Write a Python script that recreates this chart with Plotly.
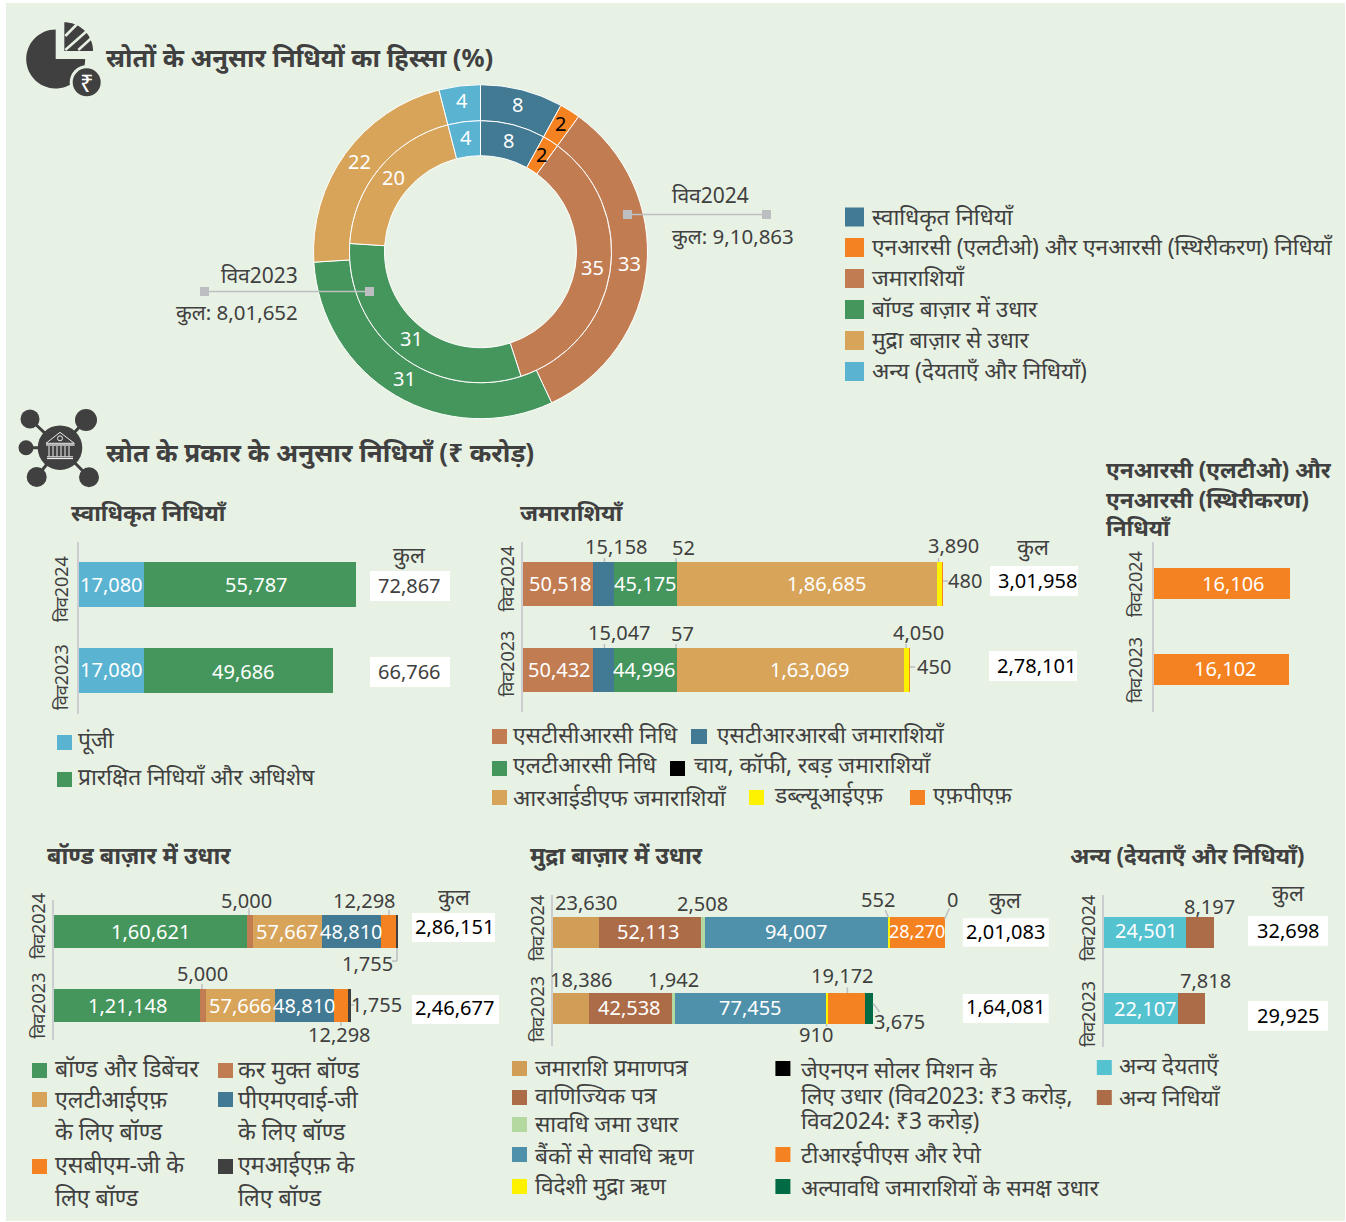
import math
import numpy as np
import plotly.graph_objects as go

W, H = 1346, 1222
FONT = '"Noto Sans", "Noto Sans Devanagari", "Open Sans", sans-serif'
DARK = "#404040"
BG = "#E8F2E4"
GREY = "#BDBEC2"

YEARS = ["विव2023", "विव2024"]

# ---- colours
C_BLUE = "#5AB3D1"; C_GREEN = "#44965C"; C_ORANGE = "#F58220"; C_BROWN = "#C27C52"
C_TEAL = "#417A92"; C_TAN = "#D7A45A"; C_BLACK = "rgba(0,0,0,0.995)"; C_YELLOW = "#FFF200"; C_CHAR = "#404040"
C_TAN2 = "#D19E57"; C_BROWN2 = "#AD6C48"; C_LGREEN = "#B3D9A0"; C_BLUE2 = "#4F90AA"; C_DGREEN = "#006B45"; C_CYAN = "#55C2D0"

# ---- donut data
src_names = ["स्वाधिकृत निधियाँ", "एनआरसी (एलटीओ) और एनआरसी (स्थिरीकरण) निधियाँ", "जमाराशियाँ",
             "बॉण्ड बाज़ार में उधार", "मुद्रा बाज़ार से उधार", "अन्य (देयताएँ और निधियाँ)"]
src_colors = [C_TEAL, C_ORANGE, C_BROWN, C_GREEN, C_TAN, C_BLUE]
src_2024 = [72867, 16106, 301958, 286151, 201083, 32698]
src_2023 = [66766, 16102, 278101, 246677, 164081, 29925]
pct_2024 = [8, 2, 33, 31, 22, 4]
pct_2023 = [8, 2, 35, 31, 20, 4]

# ---- stacked bars [2023, 2024]
own_names = ["पूंजी", "प्रारक्षित निधियाँ और अधिशेष"]
own_vals = [[17080, 17080], [49686, 55787]]
own_cols = [C_BLUE, C_GREEN]
own_tot = [66766, 72867]

dep_names = ["एसटीसीआरसी निधि", "एसटीआरआरबी जमाराशियाँ", "एलटीआरसी निधि", "चाय, कॉफी, रबड़ जमाराशियाँ",
             "आरआईडीएफ जमाराशियाँ", "डब्ल्यूआईएफ़", "एफ़पीएफ़"]
dep_vals = [[50432, 50518], [15047, 15158], [44996, 45175], [57, 52], [163069, 186685], [4050, 3890], [450, 480]]
dep_cols = [C_BROWN, C_TEAL, C_GREEN, C_BLACK, C_TAN, C_YELLOW, C_ORANGE]
dep_tot = [278101, 301958]

nrc_vals = [[16102, 16106]]
nrc_tot = [16102, 16106]

bond_names = ["बॉण्ड और डिबेंचर", "कर मुक्त बॉण्ड", "एलटीआईएफ़|के लिए बॉण्ड", "पीएमएवाई-जी|के लिए बॉण्ड",
              "एसबीएम-जी के|लिए बॉण्ड", "एमआईएफ़ के|लिए बॉण्ड"]
bond_vals = [[121148, 160621], [5000, 5000], [57666, 57667], [48810, 48810], [12298, 12298], [1755, 1755]]
bond_cols = [C_GREEN, C_BROWN, C_TAN, C_TEAL, C_ORANGE, C_CHAR]
bond_tot = [246677, 286151]

mon_names = ["जमाराशि प्रमाणपत्र", "वाणिज्यिक पत्र", "सावधि जमा उधार", "बैंकों से सावधि ऋण", "विदेशी मुद्रा ऋण",
             "जेएनएन सोलर मिशन के|लिए उधार (विव2023: ₹3 करोड़,|विव2024: ₹3 करोड़)", "टीआरईपीएस और रेपो",
             "अल्पावधि जमाराशियों के समक्ष उधार"]
mon_vals = [[18386, 23630], [42538, 52113], [1942, 2508], [77455, 94007], [910, 552], [3, 3], [19172, 28270], [3675, 0]]
mon_cols = [C_TAN2, C_BROWN2, C_LGREEN, C_BLUE2, C_YELLOW, C_BLACK, C_ORANGE, C_DGREEN]
mon_tot = [164081, 201083]

oth_names = ["अन्य देयताएँ", "अन्य निधियाँ"]
oth_vals = [[22107, 24501], [7818, 8197]]
oth_cols = [C_CYAN, C_BROWN2]
oth_tot = [29925, 32698]


def X(px): return px / W
def Y(py): return 1 - py / H
def inr(v):
    s = str(int(v))
    if len(s) <= 3: return s
    head, tail = s[:-3], s[-3:]
    parts = []
    while len(head) > 2:
        parts.insert(0, head[-2:]); head = head[:-2]
    if head: parts.insert(0, head)
    return ",".join(parts + [tail])


fig = go.Figure()
ann, shp = [], []
LEG = 22.7; LAB = 20; YR = 18; SUB = 23; SUB2 = 22.6; KUL = 22


def T(px, py, text, size=LAB, color=DARK, anchor="center", bold=False, angle=0):
    ann.append(dict(x=X(px), y=Y(py - 1), xref="paper", yref="paper", text=f"<b>{text}</b>" if bold else text,
                    showarrow=False, xanchor=anchor, yanchor="middle", textangle=angle, borderpad=0, borderwidth=0,
                    font=dict(family=FONT, size=size, color=color)))


def rect(x0, y0, x1, y1, color, layer="above"):
    shp.append(dict(type="rect", xref="paper", yref="paper", x0=X(x0), x1=X(x1), y0=Y(y0), y1=Y(y1),
                    fillcolor=color, line=dict(width=0), layer=layer))


def total_box(x0, y0, x1, y1, tx, ty, value, color="#000000"):
    rect(x0, y0, x1, y1, "#FFFFFF")
    T(tx, ty, inr(value), LAB, color)


def seg(x0, y0, x1, y1, color=GREY, w=1.5):
    shp.append(dict(type="line", xref="paper", yref="paper", x0=X(x0), x1=X(x1), y0=Y(y0), y1=Y(y1),
                    line=dict(color=color, width=w), layer="above"))


def poly(pts, color):
    d = "M " + " L ".join(f"{X(a):.5f},{Y(b):.5f}" for a, b in pts) + " Z"
    shp.append(dict(type="path", xref="paper", yref="paper", path=d, fillcolor=color, line=dict(width=0), layer="above"))


def circle(cx, cy, r, color, line=None):
    shp.append(dict(type="circle", xref="paper", yref="paper", x0=X(cx - r), x1=X(cx + r), y0=Y(cy + r), y1=Y(cy - r),
                    fillcolor=color, line=dict(width=1, color=line) if line else dict(width=0), layer="above"))


def sector(cx, cy, r, a0, a1, color):
    # angles clockwise from north, degrees
    aa = np.radians(np.linspace(a0, a1, 48))
    pts = [(cx + r * math.sin(t), cy - r * math.cos(t)) for t in aa] + [(cx, cy)]
    poly(pts, color)


rect(6, 3, 1345, 1221, BG, layer="below")

layout_axes = {}
axis_n = [0]


def stacked(x0, k, top, bottom, c23, c24, h, names, vals, cols):
    axis_n[0] += 1
    n = axis_n[0]
    xn, yn = ("x", "y") if n == 1 else (f"x{n}", f"y{n}")
    maxtot = max(sum(v[i] for v in vals) for i in range(2))
    span = maxtot * k + 2
    s = c23 - c24
    layout_axes["xaxis" if n == 1 else f"xaxis{n}"] = dict(domain=[X(x0), X(x0 + span)], range=[0, span / k],
                                                           visible=False, anchor=yn, fixedrange=True)
    layout_axes["yaxis" if n == 1 else f"yaxis{n}"] = dict(domain=[Y(bottom), Y(top)], range=[-(bottom - c23) / s, (c23 - top) / s],
                                                           type="category", categoryorder="array", categoryarray=YEARS,
                                                           showticklabels=False, ticks="", showgrid=False, zeroline=False,
                                                           showline=True, linecolor="#CBCDD0", linewidth=2, anchor=xn, fixedrange=True)
    for nm, v, c in zip(names, vals, cols):
        fig.add_trace(go.Bar(y=YEARS, x=v, name=nm.replace("|", " "), orientation="h", width=h / s, xaxis=xn, yaxis=yn,
                             marker=dict(color=c, line=dict(width=0)), showlegend=False,
                             hovertemplate="%{y}: %{x}<extra>" + nm.replace("|", " ") + "</extra>"))
    fig.update_layout(barmode="stack")


# ---- donut
CX, CY = 480.5, 251.7
R_OUT, R_MID, R_IN = 167, 131, 96


def donut(pct, R, r, rlab):
    fig.add_trace(go.Pie(values=pct, labels=src_names, sort=False, direction="clockwise", rotation=0, hole=r / R,
                         marker=dict(colors=src_colors, line=dict(color="#FFFFFF", width=1)), textinfo="none",
                         showlegend=False, domain=dict(x=[X(CX - R), X(CX + R)], y=[Y(CY + R), Y(CY - R)]), hoverinfo="label+percent"))
    tot = sum(pct); c = 0
    for p in pct:
        a = 2 * math.pi * (c + p / 2) / tot
        c += p
        T(CX + rlab * math.sin(a), CY - rlab * math.cos(a) - 1, str(p), LAB, "#000000" if p == 2 else "#FFFFFF")


donut(pct_2024, R_OUT, R_MID, 150)
donut(pct_2023, R_MID, R_IN, 113)

seg(628, 214.5, 766, 214.5, GREY, 1.5); rect(623, 210, 632, 219, GREY); rect(762, 210, 771, 219, GREY)
seg(204, 291.5, 369.5, 291.5, GREY, 1.5); rect(200, 287, 209, 296, GREY); rect(365, 287, 374, 296, GREY)
T(672, 196, YEARS[1], 21, anchor="left"); T(672, 236.5, "कुल: " + inr(sum(src_2024)), 20.5, anchor="left")
T(298, 276, YEARS[0], 21, anchor="right"); T(298, 312.5, "कुल: " + inr(sum(src_2023)), 20.5, anchor="right")

for i, (nm, c, y) in enumerate(zip(src_names, src_colors, [217, 247.5, 278.5, 309.5, 340.5, 371.5])):
    rect(845, y - 9.5, 864, y + 9.5, c)
    T(872, y, nm, LEG, anchor="left")

# ---- titles
T(106, 58, "स्रोतों के अनुसार निधियों का हिस्सा (%)", 25.6, anchor="left", bold=True)
T(106, 453, "स्रोत के प्रकार के अनुसार निधियाँ (₹ करोड़)", 26, anchor="left", bold=True)
T(71, 513, "स्वाधिकृत निधियाँ", SUB2, anchor="left", bold=True)
T(520, 513, "जमाराशियाँ", SUB, anchor="left", bold=True)
T(1106, 471, "एनआरसी (एलटीओ) और", SUB2, anchor="left", bold=True)
T(1106, 500, "एनआरसी (स्थिरीकरण)", SUB2, anchor="left", bold=True)
T(1106, 528, "निधियाँ", SUB2, anchor="left", bold=True)
T(47, 856, "बॉण्ड बाज़ार में उधार", 23.3, anchor="left", bold=True)
T(530, 856, "मुद्रा बाज़ार में उधार", 23.3, anchor="left", bold=True)
T(1070, 856, "अन्य (देयताएँ और निधियाँ)", SUB2, anchor="left", bold=True)

# ---- icons
sector(55.7, 59, 29.5, 90, 360, DARK)
sector(64.3, 51, 28.7, 0, 90, DARK)
seg(65.3, 36, 76.7, 24.5, BG, 2.5); seg(65.3, 50, 88, 30, BG, 2.5); seg(78.3, 50, 92, 37.5, BG, 2.5)
circle(86.7, 82.3, 17, BG); circle(86.7, 82.3, 14, DARK)
T(86.7, 83.5, "₹", 24, "#FFFFFF")

nodes = [(30, 419, 9.5), (86, 420, 11), (26, 447.7, 7.5), (36.7, 477, 10), (89, 477.3, 10)]
for nx, ny, nr in nodes:
    seg(60, 447.7, nx, ny, DARK, 3); circle(nx, ny, nr, DARK)
circle(60, 447.7, 22.3, DARK)
ICON = "#EDEDED"
seg(46, 443.3, 60, 432.3, ICON, 1); seg(60, 432.3, 74.3, 443.3, ICON, 1)
seg(46, 445, 74.6, 445, ICON, 1.3); seg(46, 443.3, 74.3, 443.3, ICON, 1)
circle(60, 438.3, 2.5, DARK, ICON)
for cxx in (51, 59, 67):
    seg(cxx - 2, 446, cxx - 2, 456.5, ICON, 1); seg(cxx + 2, 446, cxx + 2, 456.5, ICON, 1)
seg(47, 456.8, 73, 456.8, ICON, 1); seg(47, 458.5, 73, 458.5, ICON, 1.2)

# ---- owned funds
stacked(79, 277 / 72867, 542, 714, 670.5, 584.5, 45, own_names, own_vals, own_cols)
T(61, 590, YEARS[1], YR, angle=-90); T(61, 678, YEARS[0], YR, angle=-90)
T(111, 585, inr(own_vals[0][1]), LAB, "#FFFFFF"); T(256.5, 585, inr(own_vals[1][1]), LAB, "#FFFFFF")
T(111, 670, inr(own_vals[0][0]), LAB, "#FFFFFF"); T(243.5, 672, inr(own_vals[1][0]), LAB, "#FFFFFF")
T(410, 555, "कुल", KUL)
total_box(370, 571, 450, 601, 410, 586, own_tot[1], DARK); total_box(370, 657, 450, 687, 410, 672.5, own_tot[0], DARK)
rect(57, 735, 72, 750, own_cols[0]); T(78, 740, own_names[0], LEG, anchor="left")
rect(57, 772, 72, 787, own_cols[1]); T(78, 777, own_names[1], LEG, anchor="left")

# ---- deposits
stacked(523, 420 / 301958, 542, 712, 669.5, 584, 44, dep_names, dep_vals, dep_cols)
T(506.5, 580, YEARS[1], YR, angle=-90); T(506.5, 665, YEARS[0], YR, angle=-90)
for x, y, i, j in [(560, 584, 0, 1), (645.4, 584, 2, 1), (826, 584, 4, 1), (559.6, 670, 0, 0), (644.8, 670, 2, 0), (809.6, 670, 4, 0)]:
    T(x, y, inr(dep_vals[i][j]), LAB, "#FFFFFF")
for x, y, i, j in [(616, 547, 1, 1), (683.5, 549, 3, 1), (953, 546.5, 5, 1), (964.5, 582, 6, 1),
                   (619, 633, 1, 0), (682.4, 634, 3, 0), (918.6, 633, 5, 0), (933.5, 667, 6, 0)]:
    T(x, y, inr(dep_vals[i][j]), LAB)
for xx in (604.4, 676, 938.5): seg(xx, 558, xx, 562)
for xx in (604.4, 676, 906): seg(xx, 644, xx, 648)
seg(943, 581, 948, 581); seg(910, 667, 915, 667)
T(1033, 547, "कुल", KUL)
total_box(990, 566, 1078, 596, 1037, 581, dep_tot[1]); total_box(989, 651, 1077, 681, 1036, 666, dep_tot[0])
rect(492, 729, 507, 744, "#C27C52"); T(513, 735, dep_names[0], LEG, anchor="left")
rect(691, 729, 707, 744, dep_cols[1]); T(717, 735, dep_names[1], LEG, anchor="left")
rect(492, 761, 507, 776, dep_cols[2]); T(513, 765, dep_names[2], LEG, anchor="left")
rect(670, 761, 685, 776, "#000000"); T(694, 765, dep_names[3], LEG, anchor="left")
rect(492, 790, 507, 805, dep_cols[4]); T(513, 798, dep_names[4], LEG, anchor="left")
rect(749, 790, 764, 805, dep_cols[5]); T(774, 795, dep_names[5], LEG, anchor="left")
rect(910, 790, 925, 805, dep_cols[6]); T(932.5, 795, dep_names[6], LEG, anchor="left")

# ---- NRC
stacked(1153.5, 136 / 16106, 542, 712, 669.5, 583.5, 31, ["एनआरसी"], nrc_vals, [C_ORANGE])
T(1135, 585, YEARS[1], YR, angle=-90); T(1135, 670.7, YEARS[0], YR, angle=-90)
T(1233, 584, inr(nrc_tot[1]), LAB, "#FFFFFF"); T(1225, 669, inr(nrc_tot[0]), LAB, "#FFFFFF")

# ---- bonds
stacked(54, 344 / 286151, 900, 1040, 1005.5, 931.5, 33, [n for n in bond_names], bond_vals, bond_cols)
T(37.7, 927, YEARS[1], YR, angle=-90); T(37.7, 1006.7, YEARS[0], YR, angle=-90)
for x, y, i, j in [(150.7, 932, 0, 1), (287, 932, 2, 1), (351.7, 932, 3, 1), (127.3, 1006.5, 0, 0), (240, 1006.5, 2, 0), (304, 1006.5, 3, 0)]:
    T(x, y, inr(bond_vals[i][j]), LAB, "#FFFFFF")
for x, y, i, j in [(247, 901, 1, 1), (364, 901, 4, 1), (368, 964.7, 5, 1), (202.7, 975, 1, 0), (376, 1006, 5, 0), (339.3, 1035.7, 4, 0)]:
    T(x, y, inr(bond_vals[i][j]), LAB)
seg(249, 908, 249, 915); seg(389, 910, 389, 915); seg(397, 948, 397, 961); seg(397, 961, 392, 961)
seg(202, 984, 202, 989); seg(351, 1005, 354, 1005); seg(341, 1022, 341, 1026)
T(454, 897, "कुल", KUL)
total_box(412, 913, 495, 942, 454.7, 927, bond_tot[1]); total_box(412, 995, 499, 1024, 454, 1008.5, bond_tot[0])
BLEG = 23.2
for (sx, sy, tx, c, nm, ys) in [(32, 1063, 55, bond_cols[0], bond_names[0], [1069]), (218, 1063, 238, bond_cols[1], bond_names[1], [1070]),
                                (32, 1092, 55, bond_cols[2], bond_names[2], [1100, 1131.7]), (218, 1092, 238, bond_cols[3], bond_names[3], [1100, 1131.7]),
                                (32, 1159, 55, bond_cols[4], bond_names[4], [1165, 1198]), (218, 1159, 238, bond_cols[5], bond_names[5], [1165, 1198])]:
    rect(sx, sy, sx + 15, sy + 15, c)
    for line, yy in zip(nm.split("|"), ys):
        T(tx, yy, line, BLEG, anchor="left")

# ---- money market
stacked(553, 391.6 / 201083, 895, 1046, 1008.3, 932.7, 30.5, [n for n in mon_names], mon_vals, mon_cols)
T(536.7, 929, YEARS[1], YR, angle=-90); T(536.7, 1010, YEARS[0], YR, angle=-90)
for x, y, i, j, sz in [(648.8, 932, 1, 1, LAB), (796.2, 932, 3, 1, LAB), (916.8, 932, 6, 1, 18), (629, 1008, 1, 0, LAB), (750.3, 1008, 3, 0, LAB)]:
    T(x, y, inr(mon_vals[i][j]), sz, "#FFFFFF")
for x, y, i, j in [(586.3, 903.7, 0, 1), (702.2, 905, 2, 1), (878.4, 900.7, 4, 1), (952, 900, 7, 1),
                   (581.5, 980, 0, 0), (673.4, 980.7, 2, 0), (842.6, 976.7, 6, 0), (816, 1035, 4, 0), (899, 1022.7, 7, 0)]:
    T(x, y, inr(mon_vals[i][j]), LAB)
seg(885.3, 910, 888.5, 917.7); seg(949.4, 908.3, 944.6, 919.3); seg(847.4, 987.3, 847.4, 993)
seg(873, 1003.3, 879.5, 1011.7); seg(826.6, 1023.7, 826.6, 1026.7)
T(1005, 900.7, "कुल", KUL)
total_box(962.8, 918.3, 1048.7, 946.7, 1005.5, 932, mon_tot[1]); total_box(962.8, 994, 1048.7, 1023, 1005.8, 1007.5, mon_tot[0])
for (sx, sy, tx, k, ys) in [(512, 1061, 534.6, 0, [1068]), (512, 1090, 534.6, 1, [1096.7]), (512, 1117, 534.6, 2, [1124]),
                            (512, 1147, 534.6, 3, [1156]), (512, 1179, 534.6, 4, [1186.7]),
                            (775.4, 1061, 801, 5, [1070, 1096.7, 1121.7]), (775.4, 1147, 801, 6, [1155]), (775.4, 1179, 801, 7, [1188])]:
    rect(sx, sy, sx + 15, sy + 15, "#000000" if k == 5 else mon_cols[k])
    for line, yy in zip(mon_names[k].split("|"), ys):
        T(tx, yy, line, 22.7, anchor="left")

# ---- other
stacked(1104, 110 / 32698, 895, 1047, 1008.5, 932.5, 31, oth_names, oth_vals, oth_cols)
T(1087.7, 929, YEARS[1], YR, angle=-90); T(1087.7, 1015, YEARS[0], YR, angle=-90)
T(1146.4, 931, inr(oth_vals[0][1]), LAB, "#FFFFFF"); T(1145.3, 1009, inr(oth_vals[0][0]), LAB, "#FFFFFF")
T(1209, 907.7, inr(oth_vals[1][1]), LAB); T(1205.7, 981.7, inr(oth_vals[1][0]), LAB)
T(1288, 893.3, "कुल", KUL)
total_box(1248, 916, 1328, 945.7, 1288, 931, oth_tot[1]); total_box(1248, 1001, 1328, 1030.7, 1288, 1017, oth_tot[0])
rect(1096.8, 1060, 1111.8, 1075, oth_cols[0]); T(1118.5, 1066.7, oth_names[0], LEG, anchor="left")
rect(1096.8, 1090, 1111.8, 1105, oth_cols[1]); T(1118.5, 1098, oth_names[1], LEG, anchor="left")

fig.update_layout(width=W, height=H, margin=dict(l=0, r=0, t=0, b=0), autosize=False, paper_bgcolor="#FFFFFF",
                  plot_bgcolor="rgba(0,0,0,0)", font=dict(family=FONT, color=DARK), annotations=ann, shapes=shp,
                  **layout_axes)
fig.write_html("out.html", post_script="document.body.style.margin='0';", config={"displayModeBar": False})
